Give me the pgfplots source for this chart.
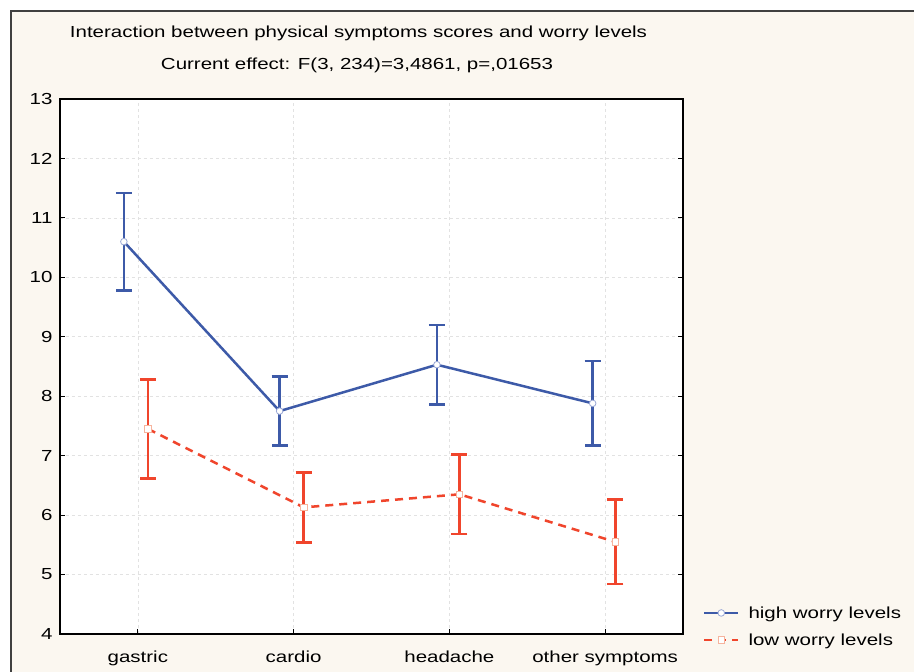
\documentclass[border=0pt]{standalone}
\usepackage{pgfplots}
\pgfplotsset{compat=1.18}
\usepackage{fontspec}
\setmainfont{Liberation Sans}[FakeStretch=1.28]
\definecolor{bgc}{HTML}{FBF7F0}
\definecolor{hiblue}{HTML}{3D5AA8}
\definecolor{lored}{HTML}{F0452C}
\definecolor{hibluel}{HTML}{9AA8D6}
\definecolor{loredl}{HTML}{F6B49E}
\definecolor{gridc}{HTML}{E2E2E2}
\begin{document}
\begin{tikzpicture}[x=1pt,y=1pt,font=\fontsize{16pt}{19pt}\selectfont]
\fill[white] (-60,-38) rectangle (854,634);
\fill[bgc] (-49,-38) rectangle (854,623);
\draw[line width=1.2pt,black!75] (-49,-38) -- (-49,623) -- (854,623);
\node[anchor=center] at (298.5,601) {Interaction between physical symptoms scores and worry levels};
\node[anchor=center] at (297,569) {Current effect: F(3, 234)=3,4861, p=,01653};
\begin{axis}[
  scale only axis, width=623pt, height=535pt,
  xmin=-0.5, xmax=3.5, ymin=4, ymax=13,
  xtick={0,1,2,3}, xticklabels={gastric,cardio,headache,other symptoms},
  ytick={4,5,...,13},
  xtick pos=bottom, ytick pos=both, tick align=inside,
  major tick length=5pt,
  tick style={black, line width=1.2pt},
  axis line style={line width=1.5pt, black},
  axis background/.style={fill=white},
  grid=major,
  major grid style={gridc, dashed, line width=0.6pt},
  /pgf/number format/assume math mode=true,
  ticklabel style={font=\fontsize{16pt}{19pt}\selectfont},
  xticklabel style={yshift=-13pt},
  yticklabel style={xshift=-4pt},
  legend style={at={(1.027,0.014)}, anchor=west, draw=none, fill=none,
    font=\fontsize{16pt}{19pt}\selectfont, row sep=10pt,
    /tikz/every odd column/.append style={column sep=7pt}},
  legend cell align=left,
  legend image code/.code={\draw[mark repeat=2,mark phase=2,#1] plot coordinates {(0pt,0pt) (17pt,0pt) (34pt,0pt)};},
]
\addplot[hiblue, line width=2.5pt,
  mark=*, mark size=3.3pt, mark options={fill=white, draw=hibluel, line width=0.8pt},
  error bars/.cd, y dir=both, y explicit,
  error bar style={line width=2.6pt, hiblue},
  error mark options={rotate=90, mark size=8pt, line width=2.6pt, hiblue}]
coordinates {
 (-0.09,10.60) +- (0,0.82)
 (0.91,7.75) +- (0,0.58)
 (1.92,8.53) +- (0,0.67)
 (2.92,7.88) +- (0,0.71)
};
\addlegendentry{high worry levels}
\addplot[lored, line width=2.5pt, dash pattern=on 8pt off 6pt,
  mark=square*, mark size=3.3pt, mark options={fill=white, draw=loredl, line width=0.8pt, solid},
  error bars/.cd, y dir=both, y explicit,
  error bar style={line width=2.6pt, lored, solid},
  error mark options={rotate=90, mark size=8pt, line width=2.6pt, lored, solid}]
coordinates {
 (0.065,7.45) +- (0,0.83)
 (1.065,6.13) +- (0,0.59)
 (2.065,6.35) +- (0,0.67)
 (3.065,5.55) +- (0,0.71)
};
\addlegendentry{low worry levels}
\end{axis}
\pgfresetboundingbox
\path[use as bounding box] (-60,-38) rectangle (854,634);
\end{tikzpicture}
\end{document}
